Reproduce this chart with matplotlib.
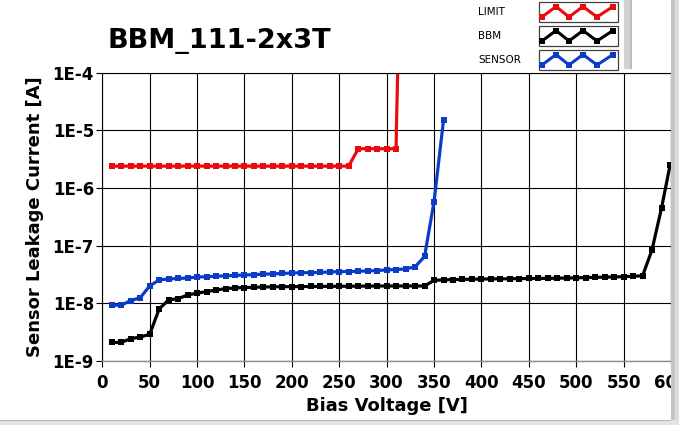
# IV curve plot: sensor / bump-bonded module leakage current vs bias voltage

import matplotlib
matplotlib.use("Agg")
import matplotlib.pyplot as plt
from matplotlib.patches import Rectangle

# ---- data -------------------------------------------------------------------------
limit_v = [10, 20, 30, 40, 50, 60, 70, 80, 90, 100, 110, 120, 130, 140, 150, 160,
           170, 180, 190, 200, 210, 220, 230, 240, 250, 260, 270, 280, 290, 300,
           310, 310.3, 313]
limit_i = [2.4e-6, 2.4e-6, 2.4e-6, 2.4e-6, 2.4e-6, 2.4e-6, 2.4e-6, 2.4e-6, 2.4e-6,
           2.4e-6, 2.4e-6, 2.4e-6, 2.4e-6, 2.4e-6, 2.4e-6, 2.4e-6, 2.4e-6, 2.4e-6,
           2.4e-6, 2.4e-6, 2.4e-6, 2.4e-6, 2.4e-6, 2.4e-6, 2.4e-6, 2.4e-6, 4.8e-6,
           4.8e-6, 4.8e-6, 4.8e-6, 4.8e-6, 1.1e-5, 1.0e-3]

sensor_v = [10, 20, 30, 40, 50, 60, 70, 80, 90, 100, 110, 120, 130, 140, 150, 160,
            170, 180, 190, 200, 210, 220, 230, 240, 250, 260, 270, 280, 290, 300,
            310, 320, 330, 340, 350, 360]
sensor_i = [9.3e-9, 9.3e-9, 1.12e-8, 1.25e-8, 2.0e-8, 2.55e-8, 2.65e-8, 2.7e-8,
            2.75e-8, 2.85e-8, 2.9e-8, 2.95e-8, 3.0e-8, 3.05e-8, 3.1e-8, 3.15e-8,
            3.2e-8, 3.25e-8, 3.3e-8, 3.35e-8, 3.4e-8, 3.4e-8, 3.45e-8, 3.5e-8,
            3.55e-8, 3.55e-8, 3.6e-8, 3.65e-8, 3.7e-8, 3.8e-8, 3.85e-8, 3.95e-8,
            4.3e-8, 6.5e-8, 5.8e-7, 1.5e-5]

bbm_v = [10, 20, 30, 40, 50, 60, 70, 80, 90, 100, 110, 120, 130, 140, 150, 160,
         170, 180, 190, 200, 210, 220, 230, 240, 250, 260, 270, 280, 290, 300,
         310, 320, 330, 340, 350, 360, 370, 380, 390, 400, 410, 420, 430, 440,
         450, 460, 470, 480, 490, 500, 510, 520, 530, 540, 550, 560, 570, 580,
         590, 599]
bbm_i = [2.1e-9, 2.1e-9, 2.45e-9, 2.6e-9, 2.9e-9, 8.0e-9, 1.15e-8, 1.2e-8, 1.4e-8,
         1.5e-8, 1.6e-8, 1.7e-8, 1.8e-8, 1.85e-8, 1.88e-8, 1.9e-8, 1.92e-8, 1.93e-8,
         1.94e-8, 1.95e-8, 1.95e-8, 1.96e-8, 1.97e-8, 1.97e-8, 1.98e-8, 1.98e-8,
         1.99e-8, 1.99e-8, 2.0e-8, 2.0e-8, 2.0e-8, 2.0e-8, 2.0e-8, 2.0e-8, 2.5e-8,
         2.55e-8, 2.58e-8, 2.6e-8, 2.62e-8, 2.64e-8, 2.65e-8, 2.66e-8, 2.67e-8,
         2.68e-8, 2.7e-8, 2.7e-8, 2.72e-8, 2.73e-8, 2.75e-8, 2.77e-8, 2.8e-8,
         2.82e-8, 2.85e-8, 2.87e-8, 2.9e-8, 2.95e-8, 3.0e-8, 8.5e-8, 4.5e-7, 2.5e-6]

x_ticks = [0, 50, 100, 150, 200, 250, 300, 350, 400, 450, 500, 550, 600]
y_ticks = [1e-9, 1e-8, 1e-7, 1e-6, 1e-5, 1e-4]
y_tick_labels = ["1E-9", "1E-8", "1E-7", "1E-6", "1E-5", "1E-4"]

series_names = ["LIMIT", "BBM", "SENSOR"]
series_colors = ["#e80c0c", "#000000", "#0a3cc8"]

plt.rcParams['font.family'] = ['DejaVu Sans']

W, H = 679, 425
fig = plt.figure(figsize=(W / 100, H / 100), dpi=100)
fig.patch.set_facecolor("white")

# plot area in pixels: x 102..671, y 73..361
ax = fig.add_axes([102.3 / W, 1 - 361 / H, (671 - 102.3) / W, (361 - 72.7) / H])
ax.set_yscale("log")
ax.set_xlim(0, 600)
ax.set_ylim(1e-9, 1e-4)

line_kw = dict(lw=2.3, marker="s", ms=4.6, mew=0)
ax.plot(limit_v, limit_i, color=series_colors[0], markevery=list(range(len(limit_v) - 2)), **line_kw)
ax.plot(bbm_v, bbm_i, color=series_colors[1], **line_kw)
ax.plot(sensor_v, sensor_i, color=series_colors[2], **line_kw)

ax.set_xticks(x_ticks)
ax.set_xticklabels([str(t) for t in x_ticks])
ax.set_yticks(y_ticks)
ax.set_yticklabels(y_tick_labels)
ax.minorticks_off()
ax.grid(True, color="black", lw=0.8)
ax.set_axisbelow(True)

ax.tick_params(axis="both", direction="out", length=4, width=0.8, colors="black",
               labelsize=12)
ax.tick_params(axis="x", pad=5)
ax.tick_params(axis="y", pad=2)
for lab in ax.get_xticklabels() + ax.get_yticklabels():
    lab.set_fontweight("bold")

for side in ["top", "right", "left"]:
    ax.spines[side].set_color("black")
    ax.spines[side].set_linewidth(0.8)
ax.spines["bottom"].set_color("#8c8c8c")
ax.spines["bottom"].set_linewidth(1.0)

ax.set_xlabel("Bias Voltage [V]", fontsize=13, fontweight="bold", labelpad=4)
ax.set_ylabel("Sensor Leakage Current [A]", fontsize=13, fontweight="bold", labelpad=6)

fig.text(107 / W, 1 - 41 / H, "BBM_111-2x3T", fontsize=19.5, fontweight="bold",
         ha="left", va="center")

# ---- decorations (legend panel, frame strips) in pixel coordinates ----
deco = fig.add_axes([0, 0, 1, 1], zorder=20)
deco.set_xlim(0, W)
deco.set_ylim(H, 0)
deco.axis("off")
deco.patch.set_alpha(0)

# legend panel shading at its right side
deco.add_patch(Rectangle((624, 0), 8, 69, color="#d2d2d2", lw=0))
deco.add_patch(Rectangle((630, 0), 2, 69, color="#bdbdbd", lw=0))

zig_x = [542, 556, 569, 583, 597, 613]
zig_dy = [15, 4.5, 15, 4.5, 15, 4.5]
for row, (name, col) in enumerate(zip(series_names, series_colors)):
    top = 2 + 24 * row
    deco.text(478, top + 10, name, fontsize=7.5, ha="left", va="center")
    deco.add_patch(Rectangle((539, top), 79, 20, facecolor="white",
                             edgecolor="#404040", lw=0.9))
    deco.plot(zig_x, [top + d for d in zig_dy], color=col, lw=2.2, marker="s",
              ms=3.8, mew=0, solid_joinstyle="miter")

# window frame strips on the right and at the bottom
deco.add_patch(Rectangle((671, 0), 8, H, color="#dcdcdc", lw=0))
deco.add_patch(Rectangle((671, 0), 4, H, color="#c4c4c4", lw=0))
deco.add_patch(Rectangle((0, 420), W, 5, color="#e4e4e4", lw=0))
deco.add_patch(Rectangle((0, 420), 671, 1.2, color="#b4b4b4", lw=0))

fig.savefig("out.png", dpi=100)
